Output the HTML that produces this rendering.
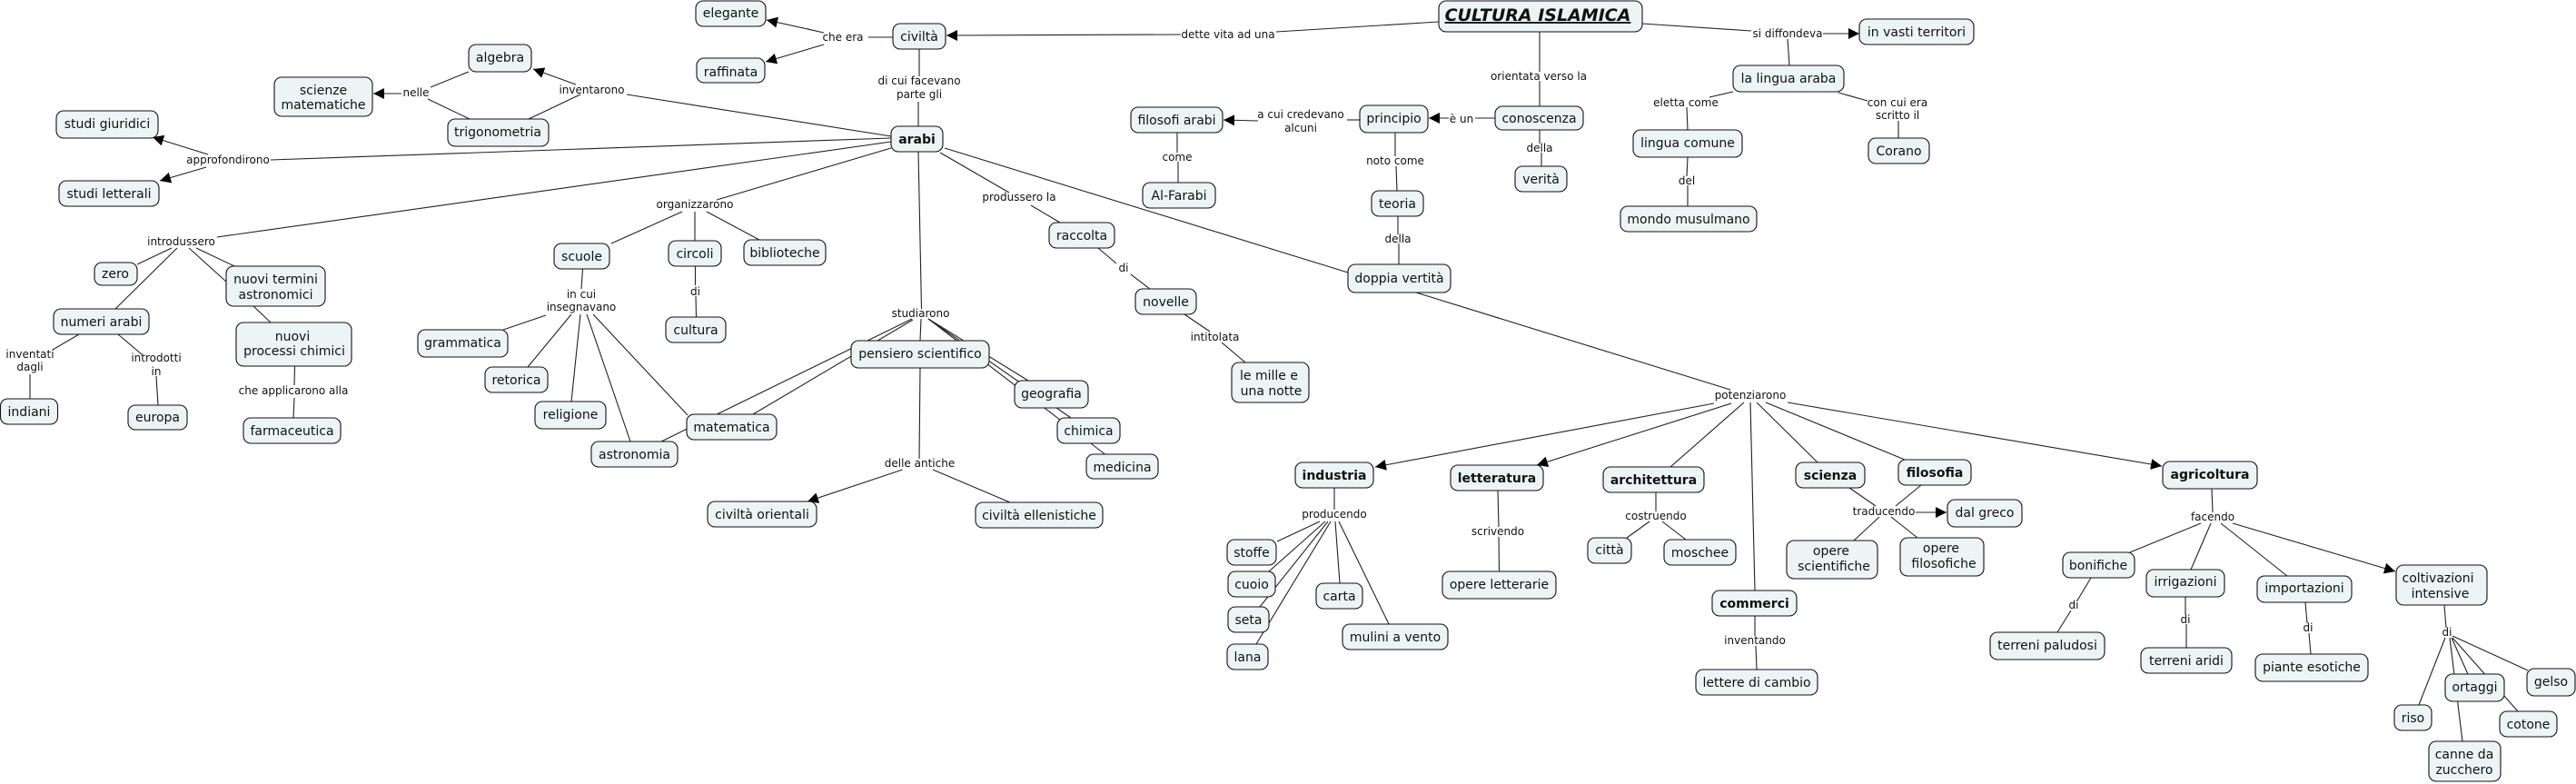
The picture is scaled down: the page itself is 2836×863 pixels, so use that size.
<!DOCTYPE html>
<html lang="it"><head><meta charset="utf-8"><title>Cultura islamica</title>
<style>
html,body{margin:0;padding:0;background:#fff;width:2836px;height:863px;overflow:hidden}
svg{display:block}
text{font-family:"DejaVu Sans","Liberation Sans",sans-serif;fill:#111;text-anchor:middle}
.n{font-size:14px}
.b{font-size:14px;font-weight:bold}
.l{font-size:12px}
.t{font-size:19px;font-weight:bold;font-style:italic;text-decoration:underline}
rect{fill:#edf4f6;stroke:#111;stroke-width:1.1}
line{stroke:#222;stroke-width:1.1}
</style></head><body>
<svg width="2836" height="863" viewBox="0 0 2836 863" xmlns="http://www.w3.org/2000/svg">
<defs><marker id="a" markerUnits="userSpaceOnUse" markerWidth="13" markerHeight="13" refX="12" refY="6" orient="auto"><path d="M0,0 L12,6 L0,12 z" fill="#000"/></marker></defs>
<g>
<line x1="634" y1="93" x2="587" y2="76" marker-end="url(#a)"/>
<line x1="639" y1="104" x2="582" y2="131"/>
<line x1="690" y1="104" x2="981" y2="150"/>
<line x1="516" y1="79" x2="474" y2="96"/>
<line x1="517" y1="131" x2="471" y2="109"/>
<line x1="442" y1="103" x2="411" y2="103" marker-end="url(#a)"/>
<line x1="298" y1="176" x2="981" y2="152"/>
<line x1="229" y1="170" x2="168" y2="151" marker-end="url(#a)"/>
<line x1="227" y1="184" x2="176" y2="199" marker-end="url(#a)"/>
<line x1="239" y1="261" x2="981" y2="156"/>
<line x1="789" y1="220" x2="981" y2="163"/>
<line x1="751" y1="233" x2="673" y2="268"/>
<line x1="765" y1="233" x2="765" y2="265"/>
<line x1="778" y1="233" x2="836" y2="264"/>
<line x1="907" y1="36" x2="844" y2="22" marker-end="url(#a)"/>
<line x1="907" y1="49" x2="843" y2="68" marker-end="url(#a)"/>
<line x1="956" y1="41" x2="983" y2="41"/>
<line x1="1405" y1="35" x2="1584" y2="24"/>
<line x1="1300" y1="38" x2="1042" y2="39" marker-end="url(#a)"/>
<line x1="1012" y1="54" x2="1012" y2="84"/>
<line x1="1011" y1="112" x2="1011" y2="139"/>
<line x1="1695" y1="35" x2="1695" y2="79"/>
<line x1="1695" y1="89" x2="1695" y2="117"/>
<line x1="1595" y1="130" x2="1573" y2="130" marker-end="url(#a)"/>
<line x1="1624" y1="130" x2="1646" y2="130"/>
<line x1="1497" y1="132" x2="1483" y2="132"/>
<line x1="1385" y1="133" x2="1347" y2="132" marker-end="url(#a)"/>
<line x1="1296" y1="146" x2="1296" y2="168"/>
<line x1="1297" y1="178" x2="1297" y2="201"/>
<line x1="1536" y1="146" x2="1536" y2="172"/>
<line x1="1537" y1="183" x2="1538" y2="210"/>
<line x1="1539" y1="238" x2="1539" y2="258"/>
<line x1="1540" y1="268" x2="1540" y2="291"/>
<line x1="1695" y1="143" x2="1695" y2="158"/>
<line x1="1697" y1="168" x2="1697" y2="183"/>
<line x1="1035" y1="168" x2="1111" y2="212"/>
<line x1="1135" y1="226" x2="1167" y2="245"/>
<line x1="1040" y1="163" x2="1484" y2="300"/>
<line x1="1011" y1="167" x2="1014.5" y2="340"/>
<line x1="1209" y1="273" x2="1229" y2="290"/>
<line x1="1245" y1="302" x2="1266" y2="318"/>
<line x1="1304" y1="346" x2="1332" y2="365"/>
<line x1="1345" y1="377" x2="1371" y2="399"/>
<line x1="1559" y1="322" x2="1905" y2="429"/>
<line x1="1808" y1="26" x2="1928" y2="34"/>
<line x1="2007" y1="37" x2="2047" y2="37" marker-end="url(#a)"/>
<line x1="1968" y1="43" x2="1970" y2="72"/>
<line x1="1882" y1="107" x2="1908" y2="101"/>
<line x1="1857" y1="118" x2="1858" y2="143"/>
<line x1="1858" y1="173" x2="1857" y2="194"/>
<line x1="1858" y1="204" x2="1858" y2="227"/>
<line x1="2024" y1="102" x2="2056" y2="111"/>
<line x1="2090" y1="133" x2="2090" y2="152"/>
<line x1="189" y1="273" x2="151" y2="291"/>
<line x1="195" y1="273" x2="127" y2="340"/>
<line x1="208" y1="273" x2="249" y2="310"/>
<line x1="216" y1="273" x2="258" y2="293"/>
<line x1="279" y1="337" x2="298" y2="355"/>
<line x1="87" y1="368" x2="58" y2="385"/>
<line x1="33" y1="412" x2="33" y2="439"/>
<line x1="130" y1="368" x2="156" y2="390"/>
<line x1="172" y1="414" x2="174" y2="446"/>
<line x1="324.5" y1="403" x2="324" y2="424"/>
<line x1="324" y1="438" x2="323" y2="460"/>
<line x1="641.5" y1="296" x2="640" y2="318"/>
<line x1="601" y1="347" x2="554" y2="363"/>
<line x1="629" y1="346" x2="581" y2="404"/>
<line x1="639" y1="346" x2="629" y2="442"/>
<line x1="646" y1="346" x2="694" y2="486"/>
<line x1="653" y1="346" x2="757" y2="457"/>
<line x1="765.5" y1="293" x2="765.5" y2="314"/>
<line x1="766" y1="326" x2="766.5" y2="349"/>
<line x1="1004" y1="351" x2="728" y2="486"/>
<line x1="1005" y1="352" x2="829" y2="456"/>
<line x1="1014" y1="351" x2="1013" y2="375"/>
<line x1="1013" y1="405" x2="1012" y2="505"/>
<line x1="1022" y1="351" x2="1216.5" y2="500"/>
<line x1="1022" y1="351" x2="1179" y2="460"/>
<line x1="1022" y1="351" x2="1132" y2="419"/>
<line x1="993.5" y1="517" x2="889" y2="552" marker-end="url(#a)"/>
<line x1="1027" y1="517" x2="1112" y2="553"/>
<line x1="1887" y1="444" x2="1514" y2="514" marker-end="url(#a)"/>
<line x1="1906" y1="444" x2="1692" y2="512" marker-end="url(#a)"/>
<line x1="1920" y1="443" x2="1839" y2="514"/>
<line x1="1927" y1="443" x2="1932" y2="650"/>
<line x1="1934" y1="443" x2="2001" y2="509"/>
<line x1="1944" y1="443" x2="2097" y2="506"/>
<line x1="1968" y1="443" x2="2380" y2="513" marker-end="url(#a)"/>
<line x1="1469" y1="537" x2="1469" y2="561"/>
<line x1="1453" y1="574" x2="1406" y2="596"/>
<line x1="1459" y1="574" x2="1397" y2="629"/>
<line x1="1462" y1="574" x2="1387" y2="668"/>
<line x1="1465" y1="574" x2="1383" y2="709"/>
<line x1="1470" y1="574" x2="1475" y2="642"/>
<line x1="1474" y1="574" x2="1529" y2="687"/>
<line x1="1649" y1="540" x2="1650" y2="580"/>
<line x1="1650" y1="591" x2="1650.5" y2="629"/>
<line x1="1823" y1="542" x2="1823" y2="563"/>
<line x1="1816" y1="574" x2="1791" y2="592"/>
<line x1="1830" y1="574" x2="1856" y2="594"/>
<line x1="1932" y1="678" x2="1932" y2="700"/>
<line x1="1933" y1="711" x2="1934" y2="737"/>
<line x1="2036" y1="537" x2="2065" y2="557"/>
<line x1="2115" y1="534" x2="2087" y2="557"/>
<line x1="2069" y1="569" x2="2041" y2="595"/>
<line x1="2082" y1="569" x2="2111" y2="592"/>
<line x1="2109" y1="564" x2="2143" y2="564" marker-end="url(#a)"/>
<line x1="2435" y1="538" x2="2436" y2="564"/>
<line x1="2423" y1="576" x2="2345" y2="608"/>
<line x1="2434" y1="576" x2="2412" y2="627"/>
<line x1="2445" y1="576" x2="2518" y2="634"/>
<line x1="2458" y1="576" x2="2637" y2="629" marker-end="url(#a)"/>
<line x1="2302" y1="636" x2="2287" y2="661"/>
<line x1="2280" y1="672" x2="2265" y2="696"/>
<line x1="2406" y1="657" x2="2406" y2="677"/>
<line x1="2407" y1="687" x2="2407" y2="713"/>
<line x1="2538" y1="663" x2="2540" y2="686"/>
<line x1="2542" y1="697" x2="2544" y2="720"/>
<line x1="2691" y1="666" x2="2693" y2="691"/>
<line x1="2692" y1="702" x2="2663" y2="776"/>
<line x1="2697" y1="702" x2="2711" y2="816"/>
<line x1="2699" y1="702" x2="2717" y2="742"/>
<line x1="2700" y1="702" x2="2772" y2="783"/>
<line x1="2700" y1="700" x2="2783" y2="738"/>
</g>
<g>
<rect x="1584" y="1" width="224" height="34" rx="8"/>
<rect x="766" y="1" width="77" height="28" rx="8"/>
<rect x="767" y="64" width="75" height="27" rx="8"/>
<rect x="516" y="49" width="69" height="30" rx="8"/>
<rect x="302" y="85" width="108" height="43" rx="8"/>
<rect x="493" y="131" width="111" height="30" rx="8"/>
<rect x="62" y="122" width="112" height="30" rx="8"/>
<rect x="65" y="199" width="110" height="28" rx="8"/>
<rect x="610" y="268" width="61" height="28" rx="8"/>
<rect x="736" y="265" width="58" height="28" rx="8"/>
<rect x="819" y="264" width="90" height="28" rx="8"/>
<rect x="104" y="289" width="47" height="25" rx="8"/>
<rect x="249" y="293" width="109" height="44" rx="8"/>
<rect x="59" y="340" width="105" height="28" rx="8"/>
<rect x="260" y="355" width="127" height="48" rx="8"/>
<rect x="0.5" y="439" width="63" height="28" rx="8"/>
<rect x="141" y="446" width="65" height="27" rx="8"/>
<rect x="268" y="460" width="107" height="28" rx="8"/>
<rect x="460" y="363" width="99" height="30" rx="8"/>
<rect x="534" y="404" width="69" height="28" rx="8"/>
<rect x="589" y="442" width="78" height="30" rx="8"/>
<rect x="651" y="486" width="95" height="28" rx="8"/>
<rect x="756" y="456" width="99" height="28" rx="8"/>
<rect x="733" y="349" width="66" height="28" rx="8"/>
<rect x="937" y="375" width="152" height="30" rx="8"/>
<rect x="1117" y="419" width="81" height="30" rx="8"/>
<rect x="1164" y="460" width="69" height="28" rx="8"/>
<rect x="1196" y="500" width="79" height="27" rx="8"/>
<rect x="779" y="552" width="120" height="28" rx="8"/>
<rect x="1074" y="553" width="140" height="28" rx="8"/>
<rect x="983" y="26" width="58" height="28" rx="8"/>
<rect x="981" y="139" width="57" height="28" rx="8"/>
<rect x="1245" y="118" width="101" height="28" rx="8"/>
<rect x="1497" y="116" width="75" height="30" rx="8"/>
<rect x="1646" y="117" width="97" height="26" rx="8"/>
<rect x="1668" y="183" width="57" height="28" rx="8"/>
<rect x="1258" y="201" width="80" height="28" rx="8"/>
<rect x="1510" y="210" width="57" height="28" rx="8"/>
<rect x="1155" y="245" width="72" height="28" rx="8"/>
<rect x="1798" y="143" width="120" height="30" rx="8"/>
<rect x="1784" y="227" width="150" height="28" rx="8"/>
<rect x="2047" y="21" width="126" height="28" rx="8"/>
<rect x="1908" y="72" width="122" height="29" rx="8"/>
<rect x="2057" y="152" width="67" height="28" rx="8"/>
<rect x="1484" y="291" width="113" height="31" rx="8"/>
<rect x="1250" y="318" width="67" height="28" rx="8"/>
<rect x="1356" y="399" width="85" height="44" rx="8"/>
<rect x="1426" y="509" width="86" height="28" rx="8"/>
<rect x="1597" y="512" width="102" height="28" rx="8"/>
<rect x="1765" y="514" width="111" height="28" rx="8"/>
<rect x="1977" y="509" width="76" height="28" rx="8"/>
<rect x="2090" y="506" width="80" height="28" rx="8"/>
<rect x="1351" y="594" width="54" height="28" rx="8"/>
<rect x="1352" y="629" width="52" height="28" rx="8"/>
<rect x="1352" y="668" width="45" height="28" rx="8"/>
<rect x="1351" y="709" width="45" height="28" rx="8"/>
<rect x="1449" y="642" width="51" height="28" rx="8"/>
<rect x="1478" y="687" width="116" height="28" rx="8"/>
<rect x="1588" y="629" width="125" height="30" rx="8"/>
<rect x="1748" y="592" width="48" height="28" rx="8"/>
<rect x="1832" y="594" width="79" height="28" rx="8"/>
<rect x="1885" y="650" width="93" height="28" rx="8"/>
<rect x="1867" y="737" width="134" height="28" rx="8"/>
<rect x="2144" y="550" width="82" height="30" rx="8"/>
<rect x="1967" y="595" width="100" height="42" rx="8"/>
<rect x="2092" y="592" width="92" height="42" rx="8"/>
<rect x="2271" y="608" width="79" height="28" rx="8"/>
<rect x="2191" y="696" width="126" height="30" rx="8"/>
<rect x="2381" y="508" width="104" height="30" rx="8"/>
<rect x="2363" y="627" width="86" height="30" rx="8"/>
<rect x="2485" y="634" width="104" height="29" rx="8"/>
<rect x="2638" y="622" width="100" height="44" rx="8"/>
<rect x="2357" y="713" width="100" height="28" rx="8"/>
<rect x="2483" y="720" width="124" height="30" rx="8"/>
<rect x="2692" y="742" width="65" height="30" rx="8"/>
<rect x="2782" y="736" width="53" height="30" rx="8"/>
<rect x="2636" y="776" width="41" height="28" rx="8"/>
<rect x="2752" y="783" width="63" height="28" rx="8"/>
<rect x="2674" y="816" width="79" height="44" rx="8"/>
</g>
<g class="n">
<text class="t" x="1693" y="23">CULTURA ISLAMICA</text>
<text class="n" x="804.5" y="19">elegante</text>
<text class="n" x="804.5" y="84">raffinata</text>
<text class="n" x="550.5" y="68">algebra</text>
<text class="n" x="356" y="104">scienze</text>
<text class="n" x="356" y="120">matematiche</text>
<text class="n" x="548" y="150">trigonometria</text>
<text class="n" x="118" y="141">studi giuridici</text>
<text class="n" x="120" y="218">studi letterali</text>
<text class="n" x="640.5" y="287">scuole</text>
<text class="n" x="765" y="284">circoli</text>
<text class="n" x="864" y="283">biblioteche</text>
<text class="n" x="127" y="306">zero</text>
<text class="n" x="303.5" y="312">nuovi termini</text>
<text class="n" x="303.5" y="329">astronomici</text>
<text class="n" x="111.5" y="359">numeri arabi</text>
<text class="n" x="322" y="375">nuovi</text>
<text class="n" x="324" y="391">processi chimici</text>
<text class="n" x="32" y="458">indiani</text>
<text class="n" x="173.5" y="464">europa</text>
<text class="n" x="321.5" y="479">farmaceutica</text>
<text class="n" x="509.5" y="382">grammatica</text>
<text class="n" x="568.5" y="423">retorica</text>
<text class="n" x="628" y="461">religione</text>
<text class="n" x="698.5" y="505">astronomia</text>
<text class="n" x="805.5" y="475">matematica</text>
<text class="n" x="766" y="368">cultura</text>
<text class="n" x="1013" y="394">pensiero scientifico</text>
<text class="n" x="1157.5" y="438">geografia</text>
<text class="n" x="1198.5" y="479">chimica</text>
<text class="n" x="1235.5" y="519">medicina</text>
<text class="n" x="839" y="571">civiltà orientali</text>
<text class="n" x="1144" y="572">civiltà ellenistiche</text>
<text class="n" x="1012" y="45">civiltà</text>
<text class="b" x="1009.5" y="158">arabi</text>
<text class="n" x="1295.5" y="137">filosofi arabi</text>
<text class="n" x="1534.5" y="135">principio</text>
<text class="n" x="1694.5" y="135">conoscenza</text>
<text class="n" x="1696.5" y="202">verità</text>
<text class="n" x="1298" y="220">Al-Farabi</text>
<text class="n" x="1538.5" y="229">teoria</text>
<text class="n" x="1191" y="264">raccolta</text>
<text class="n" x="1858" y="162">lingua comune</text>
<text class="n" x="1859" y="246">mondo musulmano</text>
<text class="n" x="2110" y="40">in vasti territori</text>
<text class="n" x="1969" y="91">la lingua araba</text>
<text class="n" x="2090.5" y="171">Corano</text>
<text class="n" x="1540.5" y="311">doppia vertità</text>
<text class="n" x="1283.5" y="337">novelle</text>
<text class="n" x="1397" y="418">le mille e</text>
<text class="n" x="1399.5" y="435">una notte</text>
<text class="b" x="1469" y="528">industria</text>
<text class="b" x="1648" y="531">letteratura</text>
<text class="b" x="1820.5" y="533">architettura</text>
<text class="b" x="2015" y="528">scienza</text>
<text class="b" x="2130" y="525">filosofia</text>
<text class="n" x="1378" y="613">stoffe</text>
<text class="n" x="1378" y="648">cuoio</text>
<text class="n" x="1374.5" y="687">seta</text>
<text class="n" x="1373.5" y="728">lana</text>
<text class="n" x="1474.5" y="661">carta</text>
<text class="n" x="1536" y="706">mulini a vento</text>
<text class="n" x="1650.5" y="648">opere letterarie</text>
<text class="n" x="1772" y="610">città</text>
<text class="n" x="1871.5" y="613">moschee</text>
<text class="b" x="1931.5" y="669">commerci</text>
<text class="n" x="1934" y="756">lettere di cambio</text>
<text class="n" x="2185" y="569">dal greco</text>
<text class="n" x="2016" y="611">opere</text>
<text class="n" x="2019" y="628">scientifiche</text>
<text class="n" x="2137" y="608">opere</text>
<text class="n" x="2140" y="625">filosofiche</text>
<text class="n" x="2310" y="627">bonifiche</text>
<text class="n" x="2254" y="715">terreni paludosi</text>
<text class="b" x="2433" y="527">agricoltura</text>
<text class="n" x="2406" y="645">irrigazioni</text>
<text class="n" x="2537" y="652">importazioni</text>
<text class="n" x="2684" y="641">coltivazioni</text>
<text class="n" x="2686.5" y="658">intensive</text>
<text class="n" x="2407" y="732">terreni aridi</text>
<text class="n" x="2545" y="739">piante esotiche</text>
<text class="n" x="2724.5" y="761">ortaggi</text>
<text class="n" x="2808.5" y="755">gelso</text>
<text class="n" x="2656.5" y="795">riso</text>
<text class="n" x="2783.5" y="802">cotone</text>
<text class="n" x="2713" y="835">canne da</text>
<text class="n" x="2713" y="852">zucchero</text>
</g>
<g>
<text class="l" x="651.5" y="103">inventarono</text>
<text class="l" x="458" y="106">nelle</text>
<text class="l" x="251" y="180">approfondirono</text>
<text class="l" x="199.5" y="270">introdussero</text>
<text class="l" x="765" y="229">organizzarono</text>
<text class="l" x="928" y="45">che era</text>
<text class="l" x="1352" y="42">dette vita ad una</text>
<text class="l" x="1012" y="93">di cui facevano</text>
<text class="l" x="1012" y="108">parte gli</text>
<text class="l" x="1694" y="88">orientata verso la</text>
<text class="l" x="1609" y="135">è un</text>
<text class="l" x="1432" y="130">a cui credevano</text>
<text class="l" x="1432" y="145">alcuni</text>
<text class="l" x="1296" y="177">come</text>
<text class="l" x="1536" y="181">noto come</text>
<text class="l" x="1539" y="267">della</text>
<text class="l" x="1695" y="167">della</text>
<text class="l" x="1122" y="221">produssero la</text>
<text class="l" x="1237" y="299">di</text>
<text class="l" x="1337.5" y="375">intitolata</text>
<text class="l" x="1968" y="41">si diffondeva</text>
<text class="l" x="1856" y="117">eletta come</text>
<text class="l" x="1857" y="203">del</text>
<text class="l" x="2089" y="117">con cui era</text>
<text class="l" x="2089" y="131">scritto il</text>
<text class="l" x="33" y="394">inventati</text>
<text class="l" x="33" y="408">dagli</text>
<text class="l" x="172" y="398">introdotti</text>
<text class="l" x="172" y="413">in</text>
<text class="l" x="323" y="434">che applicarono alla</text>
<text class="l" x="640" y="328">in cui</text>
<text class="l" x="640" y="342">insegnavano</text>
<text class="l" x="765.5" y="325">di</text>
<text class="l" x="1013.5" y="349">studiarono</text>
<text class="l" x="1012.5" y="514">delle antiche</text>
<text class="l" x="1927" y="439">potenziarono</text>
<text class="l" x="1469" y="570">producendo</text>
<text class="l" x="1649" y="589">scrivendo</text>
<text class="l" x="1823" y="572">costruendo</text>
<text class="l" x="1932" y="709">inventando</text>
<text class="l" x="2074" y="567">traducendo</text>
<text class="l" x="2436" y="573">facendo</text>
<text class="l" x="2283" y="670">di</text>
<text class="l" x="2406" y="686">di</text>
<text class="l" x="2541" y="695">di</text>
<text class="l" x="2694" y="700">di</text>
</g>
</svg>
</body></html>
